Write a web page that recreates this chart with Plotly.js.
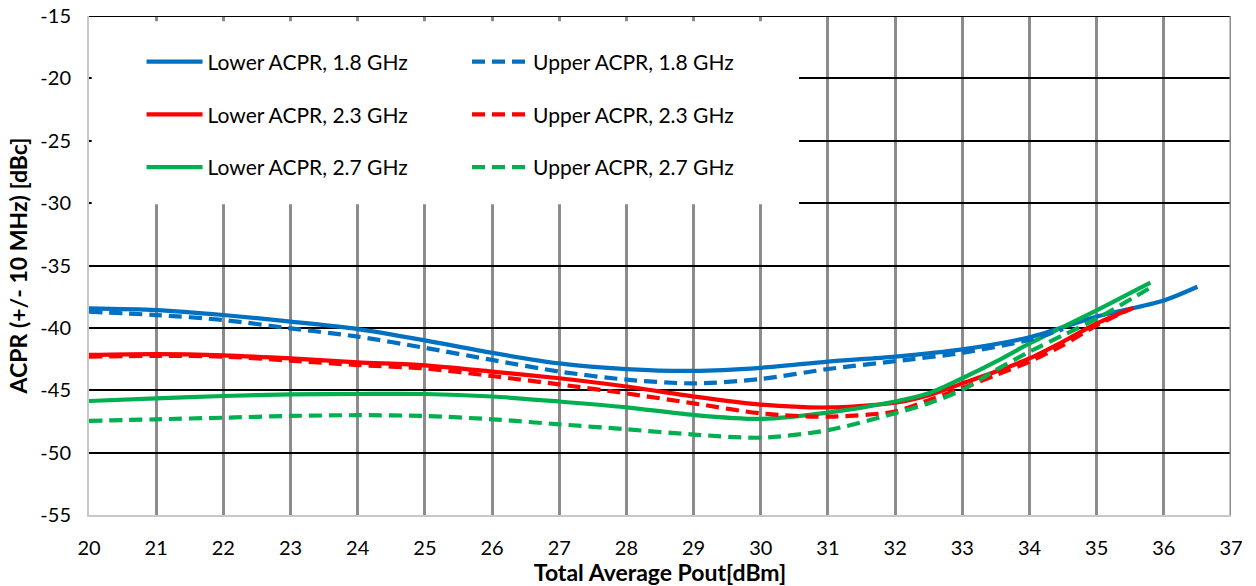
<!DOCTYPE html>
<html>
<head>
<meta charset="utf-8">
<script src="https://cdn.plot.ly/plotly-3.0.1.min.js"></script>
<style>
  html, body { margin: 0; padding: 0; background: #fff; }
  #chart { width: 1256px; height: 586px; }
</style>
</head>
<body>
<div id="chart"></div>
<script>
// ---- Data ----
const seriesNames = [
  "Lower ACPR, 1.8 GHz", "Upper ACPR, 1.8 GHz",
  "Lower ACPR, 2.3 GHz", "Upper ACPR, 2.3 GHz",
  "Lower ACPR, 2.7 GHz", "Upper ACPR, 2.7 GHz"
];

const lower18X = [20, 21, 22, 23, 24, 25, 26, 27, 28, 29, 30, 31, 32, 33, 34, 35, 36, 36.5];
const lower18Y = [-38.43, -38.57, -38.97, -39.5, -40.1, -41.0, -42.0, -42.85, -43.3, -43.45, -43.2, -42.7, -42.3, -41.72, -40.75, -39.1, -37.8, -36.7];

const upper18X = [20, 21, 22, 23, 24, 25, 26, 27, 28, 29, 30, 31, 32, 33, 34, 34.5];
const upper18Y = [-38.7, -38.97, -39.37, -40.04, -40.7, -41.6, -42.57, -43.5, -44.15, -44.45, -44.1, -43.3, -42.67, -42.0, -40.95, -40.1];

const lower23X = [20, 21, 22, 23, 24, 25, 26, 27, 28, 29, 30, 31, 32, 32.5, 33, 33.5, 34, 34.5, 35, 35.55];
const lower23Y = [-42.17, -42.1, -42.2, -42.45, -42.76, -43.0, -43.5, -44.04, -44.7, -45.5, -46.15, -46.38, -46.0, -45.4, -44.45, -43.5, -42.45, -41.1, -39.65, -38.4];

const upper23X = [20, 21, 22, 23, 24, 25, 26, 27, 28, 29, 30, 31, 32, 32.5, 33, 33.5, 34, 34.5, 35, 35.5];
const upper23Y = [-42.3, -42.25, -42.3, -42.63, -42.98, -43.25, -43.86, -44.53, -45.25, -46.05, -46.85, -47.12, -46.7, -45.8, -44.84, -43.78, -42.71, -41.38, -39.8, -38.5];

const lower27X = [20, 21, 22, 23, 24, 25, 26, 27, 28, 29, 30, 31, 32, 32.5, 33, 33.5, 34, 34.5, 35, 35.8];
const lower27Y = [-45.86, -45.65, -45.46, -45.33, -45.3, -45.3, -45.5, -45.9, -46.37, -46.98, -47.3, -46.8, -45.9, -45.24, -44.04, -42.71, -41.25, -39.92, -38.59, -36.38];

const upper27X = [20, 21, 22, 23, 24, 25, 26, 27, 28, 29, 30, 31, 32, 32.5, 33, 33.5, 34, 34.5, 35, 35.8];
const upper27Y = [-47.46, -47.33, -47.2, -47.06, -47.0, -47.06, -47.33, -47.73, -48.13, -48.55, -48.8, -48.2, -46.84, -46.04, -44.97, -43.38, -41.91, -40.59, -39.26, -36.78];

const xTickVals = [20, 21, 22, 23, 24, 25, 26, 27, 28, 29, 30, 31, 32, 33, 34, 35, 36, 37];
const yTickVals = [-55, -50, -45, -40, -35, -30, -25, -20, -15];

// ---- Styling ----
const BLUE = "#0070C0", RED = "#FF0000", GREEN = "#00B050";
const DASH = "13px,7px";
const FONT = "Lato, 'Open Sans', sans-serif";
const X_MIN = xTickVals[0], X_MAX = xTickVals[xTickVals.length - 1];
const Y_MIN = yTickVals[0], Y_MAX = yTickVals[yTickVals.length - 1];

function tr(x, y, name, color, dashed, legendId, group) {
  return {
    x: x, y: y, name: name, type: "scatter", mode: "lines",
    line: { color: color, width: 4.2, shape: "spline", smoothing: 0.8, dash: dashed ? DASH : "solid" },
    legend: legendId, legendgroup: group, hoverinfo: "x+y+name"
  };
}

const data = [
  tr(lower18X, lower18Y, seriesNames[0], BLUE, false, "legend", "a"),
  tr(lower23X, lower23Y, seriesNames[2], RED, false, "legend", "b"),
  tr(lower27X, lower27Y, seriesNames[4], GREEN, false, "legend", "c"),
  tr(upper18X, upper18Y, seriesNames[1], BLUE, true, "legend2", "d"),
  tr(upper23X, upper23Y, seriesNames[3], RED, true, "legend2", "e"),
  tr(upper27X, upper27Y, seriesNames[5], GREEN, true, "legend2", "f")
];

const legendCommon = {
  bgcolor: "rgba(0,0,0,0)", borderwidth: 0,
  font: { family: FONT, size: 21, color: "#000" },
  orientation: "v", xanchor: "left", yanchor: "top",
  tracegroupgap: 22.5, itemwidth: 56, traceorder: "grouped",
  itemclick: false, itemdoubleclick: false
};

const layout = {
  width: 1256, height: 586,
  margin: { l: 89, r: 25, t: 16, b: 71 },
  paper_bgcolor: "#fff", plot_bgcolor: "#fff",
  font: { family: FONT, size: 19, color: "#000" },
  showlegend: true,
  legend: Object.assign({}, legendCommon, { x: 0.046, y: 0.949 }),
  legend2: Object.assign({}, legendCommon, { x: 0.331, y: 0.949 }),
  xaxis: {
    range: [X_MIN, X_MAX], tickvals: xTickVals, ticktext: xTickVals.map(String),
    showgrid: true, gridcolor: "#8c8c8c", gridwidth: 3,
    showline: true, linecolor: "#c8c8c8", linewidth: 2,
    zeroline: false, ticks: "", ticklabelstandoff: 14,
    tickfont: { family: FONT, size: 20, color: "#000" },
    title: { text: "Total Average Pout[dBm]", font: { family: FONT, size: 23, color: "#000", weight: "bold" }, standoff: 2 },
    fixedrange: true
  },
  yaxis: {
    range: [Y_MIN, Y_MAX], tickvals: yTickVals, ticktext: yTickVals.map(String),
    showgrid: true, gridcolor: "#000", gridwidth: 2,
    showline: true, linecolor: "#c8c8c8", linewidth: 2,
    zeroline: false, ticks: "", ticklabelstandoff: 12,
    tickfont: { family: FONT, size: 20, color: "#000" },
    title: { text: "ACPR (+/- 10 MHz) [dBc]", font: { family: FONT, size: 23, color: "#000", weight: "bold" }, standoff: 6 },
    fixedrange: true
  },
  shapes: [
    { // top gridline at the upper edge
      type: "line", xref: "x", yref: "y", x0: X_MIN, x1: X_MAX, y0: Y_MAX, y1: Y_MAX,
      line: { color: "#000", width: 2 }, layer: "above"
    },
    { // right gridline at the last x tick
      type: "line", xref: "x", yref: "y", x0: X_MAX, x1: X_MAX, y0: Y_MIN, y1: Y_MAX,
      line: { color: "#8c8c8c", width: 3 }, layer: "above"
    },
    { // white legend panel
      type: "rect", xref: "x", yref: "y",
      x0: 20.04, x1: 30.57, y0: -30.1, y1: -15.42,
      fillcolor: "#fff", line: { width: 0 }, layer: "above"
    }
  ]
};

Plotly.newPlot("chart", data, layout, { displayModeBar: false });
</script>
</body>
</html>
